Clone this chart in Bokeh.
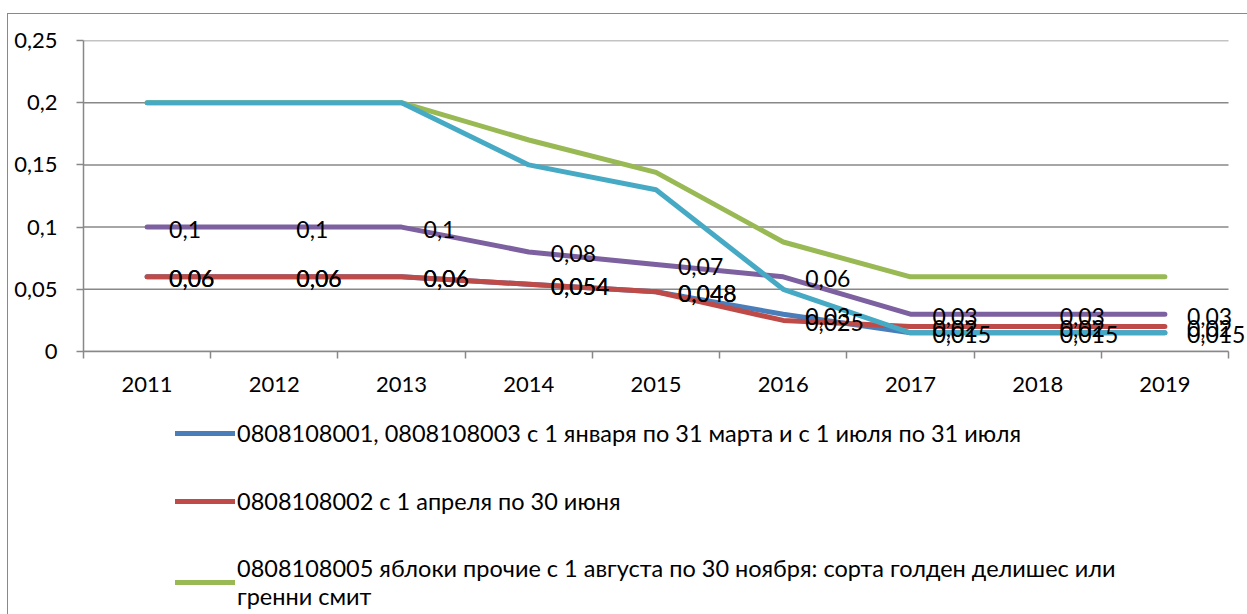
import numpy as np
from bokeh.plotting import figure
from bokeh.layouts import column
from bokeh.models import (FixedTicker, Legend, LegendItem, LabelSet,
                          ColumnDataSource, Range1d)
from bokeh.core.properties import value
from bokeh.embed import file_html
from bokeh.resources import INLINE

# ---------------- data ----------------
years = ["2011", "2012", "2013", "2014", "2015", "2016", "2017", "2018", "2019"]
s_blue = [0.06, 0.06, 0.06, 0.054, 0.048, 0.03, 0.015, 0.015, 0.015]
s_red = [0.06, 0.06, 0.06, 0.054, 0.048, 0.025, 0.02, 0.02, 0.02]
s_green = [0.2, 0.2, 0.2, 0.17, 0.144, 0.088, 0.06, 0.06, 0.06]
s_purple = [0.1, 0.1, 0.1, 0.08, 0.07, 0.06, 0.03, 0.03, 0.03]
s_cyan = [0.2, 0.2, 0.2, 0.15, 0.13, 0.05, 0.015, 0.015, 0.015]
y_ticks = [0, 0.05, 0.1, 0.15, 0.2, 0.25]
y_tick_labels = ["0", "0,05", "0,1", "0,15", "0,2", "0,25"]
legend_labels = [
    "0808108001, 0808108003 с 1 января по 31 марта и с 1 июля по 31 июля",
    "0808108002 с 1 апреля по 30 июня",
    "0808108005 яблоки прочие с 1 августа по 30 ноября: сорта голден делишес или\nгренни смит",
]

FONT = "Lato"
GRID = "#888888"
colors = {"blue": "#4A7EBB", "red": "#BE4B48", "green": "#98B954",
          "purple": "#7D60A0", "cyan": "#46AAC5"}
series = [("blue", s_blue), ("red", s_red), ("green", s_green),
          ("purple", s_purple), ("cyan", s_cyan)]

n = len(years)
x = np.arange(n) + 0.5

# layout (pixels)
W = 1239
H1, H2 = 400, 200
BL, BT = 75, 26
BB = H1 - BT - 311
axis_px = 1145                     # pixel length of the category axis
frame_w = W - BL
x_end = n * frame_w / axis_px      # frame runs past the axis so labels are not clipped

p = figure(width=W, height=H1, x_range=Range1d(0, x_end),
           y_range=Range1d(0, 0.25), output_backend="svg",
           toolbar_location=None, min_border_left=BL, min_border_right=0,
           min_border_top=BT, min_border_bottom=BB)
p.outline_line_color = None
p.background_fill_color = "white"
p.border_fill_color = "white"

# gridlines limited to the axis extent
p.ygrid.grid_line_color = None
p.xgrid.grid_line_color = None
p.segment(x0=[0] * len(y_ticks), x1=[n] * len(y_ticks), y0=y_ticks, y1=y_ticks,
          line_color=GRID, line_width=1.5)

# axes
p.xaxis.ticker = FixedTicker(ticks=list(x), minor_ticks=list(range(n + 1)))
p.xaxis.major_label_overrides = {float(xx): yr for xx, yr in zip(x, years)}
p.xaxis.bounds = (0, n)
p.xaxis.major_tick_out = 0
p.xaxis.major_tick_in = 0
p.xaxis.minor_tick_out = 7
p.xaxis.minor_tick_in = 0
p.xaxis.minor_tick_line_color = GRID
p.xaxis.minor_tick_line_width = 1.5
p.xaxis.axis_line_color = GRID
p.xaxis.axis_line_width = 1.5
p.xaxis.major_label_standoff = 18

p.yaxis.ticker = FixedTicker(ticks=y_ticks, minor_ticks=[])
p.yaxis.major_label_overrides = {t: l for t, l in zip(y_ticks, y_tick_labels)}
p.yaxis.major_tick_out = 7
p.yaxis.major_tick_in = 0
p.yaxis.major_tick_line_color = GRID
p.yaxis.major_tick_line_width = 1.5
p.yaxis.axis_line_color = GRID
p.yaxis.axis_line_width = 1.5
p.yaxis.major_label_standoff = 19

for ax in (p.xaxis, p.yaxis):
    ax.major_label_text_font = FONT
    ax.major_label_text_font_size = "22px"
    ax.major_label_text_color = "black"

# lines
line_style = dict(line_width=5, line_cap="round", line_join="round")
for name, vals in series:
    p.line(x, vals, line_color=colors[name], **line_style)

# data labels (blue, red, purple series)
def fmt(v):
    return ("%g" % v).replace(".", ",")

lx, ly, lt = [], [], []
for vals in (s_blue, s_red, s_purple):
    lx += list(x)
    ly += vals
    lt += [fmt(v) for v in vals]
labels = LabelSet(x="x", y="y", text="t",
                  source=ColumnDataSource(dict(x=lx, y=ly, t=lt)),
                  x_offset=22, y_offset=-2, text_align="left",
                  text_baseline="middle", text_font=value(FONT),
                  text_font_size="23px", text_color="black")
p.add_layout(labels)

# ---------------- legend panel ----------------
q = figure(width=W, height=H2, x_range=Range1d(0, 1), y_range=Range1d(0, 1),
           x_axis_type=None, y_axis_type=None, output_backend="svg",
           toolbar_location=None, min_border_left=BL, min_border_right=0,
           min_border_top=0, min_border_bottom=0)
q.outline_line_color = None
q.grid.grid_line_color = None
q.background_fill_color = "white"
q.border_fill_color = "white"

leg_r = {}
for name in ("blue", "red", "green"):
    leg_r[name] = q.line([np.nan, np.nan], [np.nan, np.nan],
                         line_color=colors[name], **line_style)

items = [LegendItem(label=legend_labels[0], renderers=[leg_r["blue"]]),
         LegendItem(label=legend_labels[1], renderers=[leg_r["red"]]),
         LegendItem(label=legend_labels[2], renderers=[leg_r["green"]])]
legend = Legend(items=items, location=(92, 4), padding=0, margin=0,
                glyph_width=60, glyph_height=30, label_height=30, spacing=38,
                label_standoff=2, border_line_color=None,
                background_fill_alpha=0, label_text_font=FONT,
                label_text_font_size="23.5px", label_text_color="black")
q.add_layout(legend, "center")

layout = column(p, q, spacing=0)
layout.styles = {"border-top": "1px solid #898989", "border-left": "1px solid #898989",
                 "margin-top": "13px", "margin-left": "7px"}

open("out.html", "w").write(file_html(layout, INLINE))
